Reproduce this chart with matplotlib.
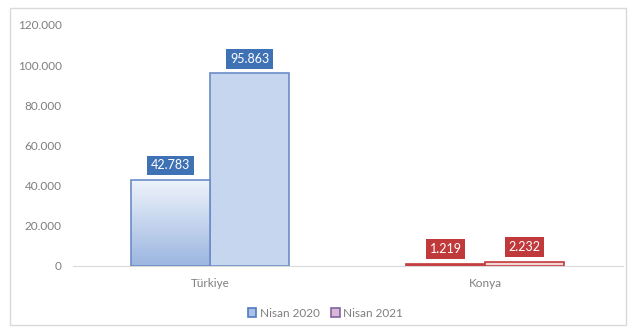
import numpy as np
import matplotlib
matplotlib.use("Agg")
import matplotlib.pyplot as plt
from matplotlib.patches import Rectangle

plt.rcParams['font.family'] = ['Lato', 'DejaVu Sans']

# Data
categories = ["Türkiye", "Konya"]
series_names = ["Nisan 2020", "Nisan 2021"]
values_2020 = [42783, 1219]
values_2021 = [95863, 2232]
yticks = [0, 20000, 40000, 60000, 80000, 100000, 120000]
ytick_labels = ["0", "20.000", "40.000", "60.000", "80.000", "100.000", "120.000"]


def fmt(v):
    return "{:,}".format(v).replace(",", ".")


fig = plt.figure(figsize=(6.32, 3.29), dpi=100)
# light border round the chart area
fig.patches.append(Rectangle((0.016, 0.012), 0.975, 0.964, transform=fig.transFigure,
                             fill=False, edgecolor="#d9d9d9", linewidth=1))

ax = fig.add_axes([0.115, 0.1915, 0.87, 0.733])
x = np.arange(len(categories))
w = 0.287

# colours per category: (edge, fill 2020, fill 2021, label box)
styles = [("#6a8cc7", "#c9d7ef", "#c6d6ef", "#3f72b5"),
          ("#c0393b", "#d8565a", "#f6d5d5", "#c0393b")]

for i in range(len(categories)):
    edge, f20, f21, lab = styles[i]
    b1 = ax.bar(x[i] - w / 2, values_2020[i], w, color=f20, edgecolor=edge, linewidth=1.2)[0]
    b2 = ax.bar(x[i] + w / 2, values_2021[i], w, color=f21, edgecolor=edge, linewidth=1.2)[0]
    if i == 0:
        # vertical gradient on the first bar: light at the top, darker blue below
        grad = np.linspace(0, 1, 256).reshape(-1, 1)
        cmap = matplotlib.colors.LinearSegmentedColormap.from_list("g", ["#9bb6e0", "#eef3fb"])
        im = ax.imshow(grad, cmap=cmap, aspect="auto", origin="lower",
                       extent=[x[i] - w, x[i], 0, values_2020[i]], zorder=b1.get_zorder())
        im.set_clip_path(b1)
        b1.set_facecolor("none")
        b1.set_zorder(3)
    for xc, v in [(x[i] - w / 2, values_2020[i]), (x[i] + w / 2, values_2021[i])]:
        ax.annotate(fmt(v), (xc, v), xytext=(0, 10.5), textcoords="offset points",
                    ha="center", va="center", color="white", fontsize=9,
                    bbox=dict(boxstyle="square,pad=0.3", fc=lab, ec="none"), zorder=5)

ax.set_xlim(-0.5, 1.5)
ax.set_ylim(0, 120000)
ax.set_yticks(yticks)
ax.set_yticklabels(ytick_labels)
ax.set_xticks(x)
ax.set_xticklabels(categories)
ax.tick_params(axis="both", length=0, colors="#7f7f7f", labelsize=8.5)
ax.tick_params(axis="y", pad=8)
ax.tick_params(axis="x", pad=9)
for s in ["top", "right", "left"]:
    ax.spines[s].set_visible(False)
ax.spines["bottom"].set_color("#d9d9d9")

handles = [Rectangle((0, 0), 1, 1, fc="#a9c1e6", ec="#4f7bc0", lw=1.2),
           Rectangle((0, 0), 1, 1, fc="#d8b8d6", ec="#8064a2", lw=1.2)]
fig.legend(handles, series_names, loc="center", bbox_to_anchor=(0.515, 0.048), ncol=2,
           frameon=False, fontsize=8.5, labelcolor="#7f7f7f", handlelength=0.7,
           handleheight=0.7, handletextpad=0.3, columnspacing=1.0)

fig.savefig("out.png", dpi=100)
